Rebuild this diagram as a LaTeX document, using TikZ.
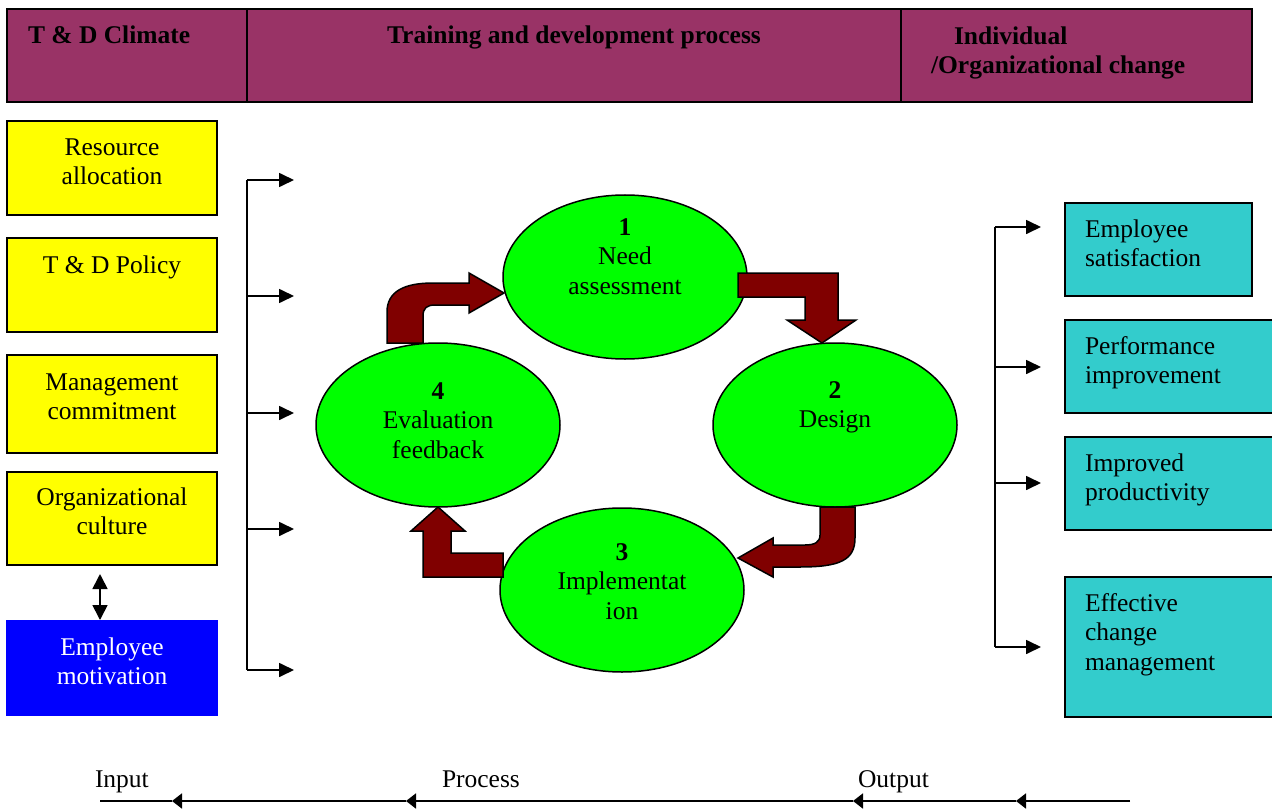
\documentclass[tikz,border=0pt]{standalone}
\usepackage{fontspec}
\setmainfont{Liberation Serif}
\usetikzlibrary{shapes.geometric,arrows.meta}
\definecolor{plumc}{HTML}{993366}
\definecolor{ycol}{HTML}{FFFF00}
\definecolor{bcol}{HTML}{0000FF}
\definecolor{tcol}{HTML}{33CCCC}
\definecolor{gcol}{HTML}{00FF00}
\definecolor{mcol}{HTML}{800000}
\newcommand\fs{\fontsize{25.5bp}{29.5bp}\selectfont}
\newcommand\ts{\rule{0pt}{20bp}}
\begin{document}
\begin{tikzpicture}[x=1bp,y=-1bp,
  box/.style={draw=black, line width=1.5bp, inner sep=0, outer sep=0, anchor=north west, minimum width=210bp, minimum height=94bp},
  hdr/.style={box, fill=plumc, minimum height=93bp},
  ybox/.style={box, fill=ycol},
  bbox/.style={box, fill=bcol, draw=bcol},
  tbox/.style={box, fill=tcol, minimum height=93bp},
  txt/.style={inner sep=0, outer sep=0, font=\fs, align=center, anchor=north},
  ltxt/.style={txt, align=left, anchor=north west},
  htxt/.style={txt, font=\fs\bfseries},
  ell/.style={ellipse, draw=black, line width=1.5bp, fill=gcol, minimum width=244bp, minimum height=164bp, inner sep=0, outer sep=0},
  conn/.style={line width=1.7bp},
  arr/.style={conn, -{Triangle[length=15bp,width=14bp]}},
  dbl/.style={conn, {Triangle[length=15bp,width=15bp]}-{Triangle[length=15bp,width=15bp]}},
  sarr/.style={line width=1.8bp, -{Triangle[length=10bp,width=15bp]}},
  blk/.style={draw=black, line width=1.5bp, fill=mcol, line join=miter}
]
\useasboundingbox (0,0) rectangle (1272,809);
\clip (0,0) rectangle (1272,809);

% header
\node[hdr, minimum width=240bp] (h1) at (7,9) {};
\node[hdr, minimum width=654bp] (h2) at (247,9) {};
\node[hdr, minimum width=351bp] (h3) at (901,9) {};
\node[htxt, anchor=north west] (h1t) at (28,24) {\ts T \& D Climate};
\node[htxt] (h2t) at (574,24) {\ts Training and development process};
\node[htxt, align=left, anchor=north west] (h3t) at (931,24) {\ts\hspace*{23bp}Individual\\/Organizational change};

% left boxes
\node[ybox] (b1) at (7,121) {};
\node[ybox] (b2) at (7,238) {};
\node[ybox, minimum height=98bp] (b3) at (7,355) {};
\node[ybox, minimum height=93bp] (b4) at (7,472) {};
\node[bbox] (b5) at (7,621) {};
\node[txt] (b1t) at (112,135) {\ts Resource\\allocation};
\node[txt] (b2t) at (112,253) {\ts T \& D Policy};
\node[txt] (b3t) at (112,370) {\ts Management\\commitment};
\node[txt] (b4t) at (112,485) {\ts Organizational\\culture};
\node[txt, text=white] (b5t) at (112,635) {\ts Employee\\motivation};
\draw[dbl] ([xshift=-12bp,yshift=-9bp]b4.south) -- ([xshift=-12bp,yshift=1bp]b5.north);

% left bracket
\coordinate (L1) at (247,180); \coordinate (T1) at (294,180);
\coordinate (L2) at (247,296); \coordinate (T2) at (294,296);
\coordinate (L3) at (247,413); \coordinate (T3) at (294,413);
\coordinate (L4) at (247,529); \coordinate (T4) at (294,529);
\coordinate (L5) at (247,670); \coordinate (T5) at (294,670);
\draw[conn] (L1) -- (L5);
\foreach \i in {1,...,5} \draw[arr] (L\i) -- (T\i);

% ellipses
\node[ell] (e1) at (625,277) {};
\node[ell] (e2) at (835,425) {};
\node[ell] (e3) at (622,590) {};
\node[ell] (e4) at (438,425) {};
\node[txt] (e1t) at (625,215) {\ts\textbf{1}\\Need\\assessment};
\node[txt] (e2t) at (835,378) {\ts\textbf{2}\\Design};
\node[txt] (e3t) at (622,540) {\ts\textbf{3}\\Implementat\\ion};
\node[txt] (e4t) at (438,379) {\ts\textbf{4}\\Evaluation\\feedback};

% block arrows
\draw[blk] (738,273) -- (838,273) -- (838,320) -- (856,320) -- (822,343) -- (787,320) -- (805,320) -- (805,297) -- (738,297) -- cycle;
\draw[blk] (820,507) -- (855,507) -- (855,538) .. controls (855,560) and (840,567) .. (800,567) -- (773,567) -- (773,577) -- (738,558) -- (773,538) -- (773,545) -- (805,545) .. controls (815,545) and (820,542) .. (820,535) -- cycle;
\draw[blk] (503,553) -- (503,577) -- (423,577) -- (423,531) -- (411,531) -- (438,507) -- (465,531) -- (451,531) -- (451,553) -- cycle;
\draw[blk] (387,343) -- (387,312) .. controls (387,291) and (405,283) .. (433,283) -- (469,283) -- (469,273) -- (504,293) -- (469,313) -- (469,305) -- (435,305) .. controls (427,305) and (423,308) .. (423,316) -- (423,343) -- cycle;

% right bracket
\coordinate (R1) at (995,227); \coordinate (S1) at (1041,227);
\coordinate (R2) at (995,367); \coordinate (S2) at (1041,367);
\coordinate (R3) at (995,483); \coordinate (S3) at (1041,483);
\coordinate (R4) at (995,647); \coordinate (S4) at (1041,647);
\draw[conn] (R1) -- (R4);
\foreach \i in {1,...,4} \draw[arr] (R\i) -- (S\i);

% right boxes
\node[tbox, minimum width=187bp] (r1) at (1065,203) {};
\node[tbox, minimum width=230bp] (r2) at (1065,320) {};
\node[tbox, minimum width=230bp] (r3) at (1065,437) {};
\node[tbox, minimum width=230bp, minimum height=140bp] (r4) at (1065,577) {};
\node[ltxt] (r1t) at (1085,217) {\ts Employee\\satisfaction};
\node[ltxt] (r2t) at (1085,334) {\ts Performance\\improvement};
\node[ltxt] (r3t) at (1085,451) {\ts Improved\\productivity};
\node[ltxt] (r4t) at (1085,591) {\ts Effective\\change\\management};

% bottom
\node[ltxt] (inp) at (95,767) {\ts Input};
\node[ltxt] (proc) at (442,767) {\ts Process};
\node[ltxt] (outp) at (858,767) {\ts Output};
\coordinate (B0) at (1130,801);
\coordinate (H4) at (1016,801);
\coordinate (H3) at (853,801);
\coordinate (H2) at (406,801);
\coordinate (H1) at (172,801);
\coordinate (B5) at (100,801);
\draw[sarr] (B0) -- (H4);
\draw[sarr] (H4) -- (H3);
\draw[sarr] (H3) -- (H2);
\draw[sarr] (H2) -- (H1);
\draw[line width=1.8bp] (H1) -- (B5);
\end{tikzpicture}
\end{document}
